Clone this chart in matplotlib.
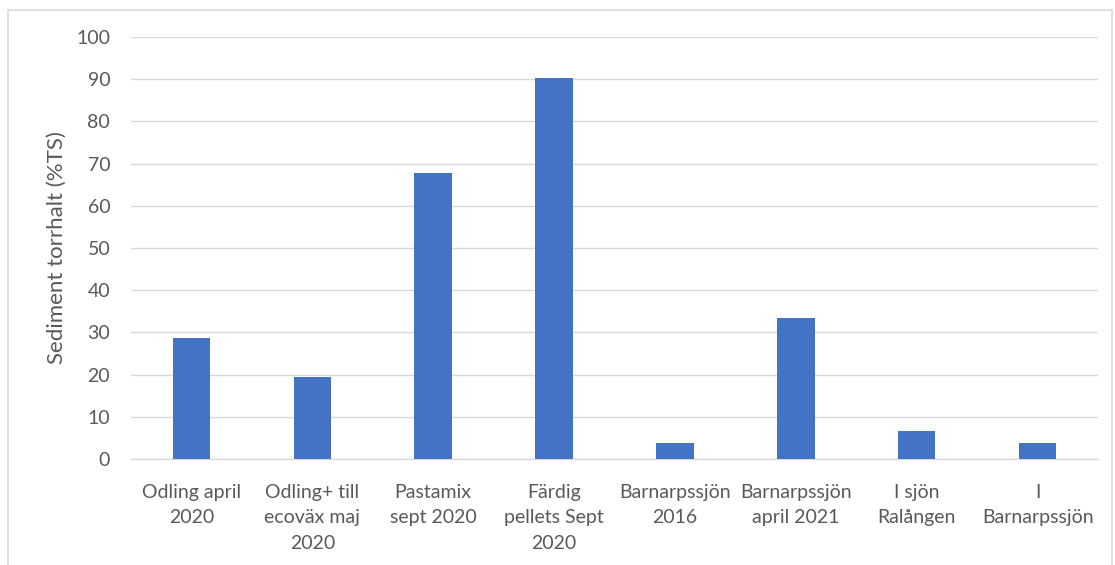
import matplotlib.pyplot as plt
import matplotlib.patches as mpatches
import numpy as np

# Dry matter content of sediment / product samples
categories = [
    'Odling april\n2020',
    'Odling+ till\necoväx maj\n2020',
    'Pastamix\nsept 2020',
    'Färdig\npellets Sept\n2020',
    'Barnarpssjön\n2016',
    'Barnarpssjön\napril 2021',
    'I sjön\nRalången',
    'I\nBarnarpssjön',
]
torrhalt = [28.6, 19.5, 67.7, 90.2, 3.8, 33.5, 6.7, 3.9]
y_ticks = [0, 10, 20, 30, 40, 50, 60, 70, 80, 90, 100]

BAR_COLOR = '#4472C4'
TEXT_COLOR = '#595959'
GRID_COLOR = '#D9D9D9'

plt.rcParams['font.family'] = ['Lato', 'DejaVu Sans']

fig = plt.figure(figsize=(11.15, 5.65), dpi=100)
ax = fig.add_axes([0.1175, 0.1876, 0.8673, 0.7469])

# light chart-area frame
fig.patches.append(mpatches.Rectangle((0.007, -0.01), 0.99, 0.993, transform=fig.transFigure,
                                      fill=False, edgecolor='#D9D9D9', linewidth=1.2))

x = np.arange(len(categories))
ax.bar(x, torrhalt, width=0.31, color=BAR_COLOR, zorder=3)

ax.set_xlim(-0.5, len(categories) - 0.5)
ax.set_ylim(0, 100)
ax.set_yticks(y_ticks)
ax.set_yticklabels([str(v) for v in y_ticks], fontsize=14, color=TEXT_COLOR)
ax.set_xticks(x)
ax.set_xticklabels(categories, fontsize=14, color=TEXT_COLOR, linespacing=1.6)
ax.tick_params(axis='y', length=0, pad=15)
ax.tick_params(axis='x', length=0, pad=18)

ax.grid(True, axis='y', color=GRID_COLOR, linewidth=1.0, zorder=0)
for side in ['left', 'right', 'top']:
    ax.spines[side].set_visible(False)
ax.spines['bottom'].set_color(GRID_COLOR)
ax.spines['bottom'].set_linewidth(1.0)

ax.set_ylabel('Sediment torrhalt (%TS)', fontsize=16, color=TEXT_COLOR)
ax.yaxis.set_label_coords(-0.066, 0.5)

plt.savefig('out.png', dpi=100, facecolor='white')
plt.close()
